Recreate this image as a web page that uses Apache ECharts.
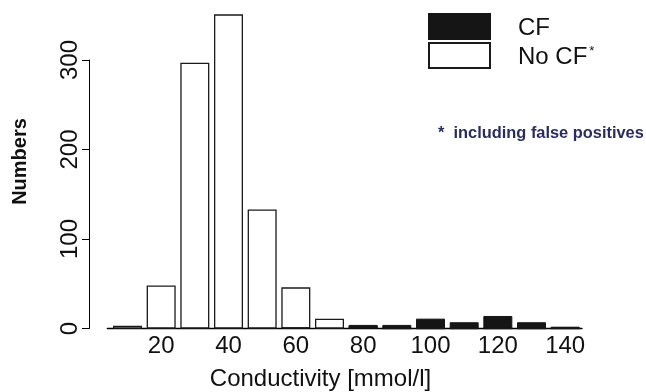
<!DOCTYPE html>
<html>
<head>
<meta charset="utf-8">
<script src="https://cdn.jsdelivr.net/npm/echarts@6/dist/echarts.min.js"></script>
<style>
html,body{margin:0;padding:0;background:#fff;}
#chart{width:646px;height:392px;}
</style>
</head>
<body>
<div id="chart"></div>
<script>
// Bin centres (mmol/l)
var binCenters = [10, 20, 30, 40, 50, 60, 70, 80, 90, 100, 110, 120, 130, 140];
// Counts per bin
var noCF = [3, 48, 297, 351, 133, 46, 11, 3, 0, 0, 0, 0, 0, 0];
var cf   = [0, 0, 0, 0, 0, 1, 0, 4, 4, 11, 7, 14, 7, 2];
// Tick labels
var xTicks = [20, 40, 60, 80, 100, 120, 140];
var yTicks = [0, 100, 200, 300];

var FONT = "'Liberation Sans', Arial, Helvetica, sans-serif";

function pairs(vals) {
  return binCenters.map(function (c, i) { return [c, vals[i]]; });
}

var chart = echarts.init(document.getElementById('chart'), null, {renderer: 'canvas'});
chart.setOption({
  animation: false,
  backgroundColor: '#fff',
  textStyle: {fontFamily: FONT},
  grid: [
    {left: 107.3, right: 64, top: 6.3, bottom: 63.5},
    {left: 89, right: 64, top: 60, bottom: 63.5}
  ],
  xAxis: [
    {
      type: 'value', gridIndex: 0, min: 4, max: 145,
      axisLine: {show: true, onZero: false, lineStyle: {color: '#000', width: 1.3}},
      axisTick: {show: false},
      splitLine: {show: false},
      axisLabel: {
        customValues: xTicks,
        color: '#111', fontSize: 24, fontFamily: FONT, margin: 6
      }
    },
    {type: 'value', gridIndex: 1, min: 0, max: 1, show: false}
  ],
  yAxis: [
    {type: 'value', gridIndex: 0, min: 0, max: 360, show: false},
    {
      type: 'value', gridIndex: 1, min: 0, max: 300, interval: 100,
      axisLine: {show: true, lineStyle: {color: '#000', width: 1}},
      axisTick: {show: true, length: 7, lineStyle: {color: '#000', width: 1}},
      splitLine: {show: false},
      axisLabel: {
        customValues: yTicks,
        rotate: 90, color: '#111', fontSize: 24, fontFamily: FONT, margin: 7
      }
    }
  ],
  legend: {
    orient: 'vertical', left: 428, top: 13, padding: 0,
    itemWidth: 61, itemHeight: 25, itemGap: 2,
    icon: 'rect', selectedMode: false,
    data: ['CF', 'No CF'],
    formatter: function (name) {
      return name === 'CF' ? '{t|CF}' : '{t|No CF}{s|*}';
    },
    textStyle: {
      rich: {
        t: {fontSize: 24, fontFamily: FONT, color: '#111', padding: [3, 0, 0, 23], lineHeight: 22},
        s: {fontSize: 13, fontFamily: FONT, color: '#111', verticalAlign: 'top', lineHeight: 13, padding: [0, 0, 0, 2]}
      }
    }
  },
  graphic: [
    {
      type: 'text', x: 320.5, y: 379,
      style: {text: 'Conductivity [mmol/l]', font: '24px ' + FONT, fill: '#111',
              align: 'center', verticalAlign: 'middle'}
    },
    {
      type: 'text', x: 20.5, y: 161.5, rotation: Math.PI / 2,
      style: {text: 'Numbers', font: 'bold 20px ' + FONT, fill: '#111',
              align: 'center', verticalAlign: 'middle'}
    },
    {
      type: 'text', x: 438, y: 133,
      style: {text: '*  including false positives', font: 'bold 16.4px ' + FONT, fill: '#2b2d5c',
              align: 'left', verticalAlign: 'middle'}
    }
  ],
  series: [
    {
      name: 'No CF', type: 'bar', stack: 'all', xAxisIndex: 0, yAxisIndex: 0,
      barWidth: 29, data: pairs(noCF),
      itemStyle: {color: '#fff', borderColor: '#1a1a1a', borderWidth: 1.3}
    },
    {
      name: 'CF', type: 'bar', stack: 'all', xAxisIndex: 0, yAxisIndex: 0,
      barWidth: 29, data: pairs(cf),
      itemStyle: {color: '#151515', borderColor: '#151515', borderWidth: 1}
    }
  ]
});
</script>
</body>
</html>
